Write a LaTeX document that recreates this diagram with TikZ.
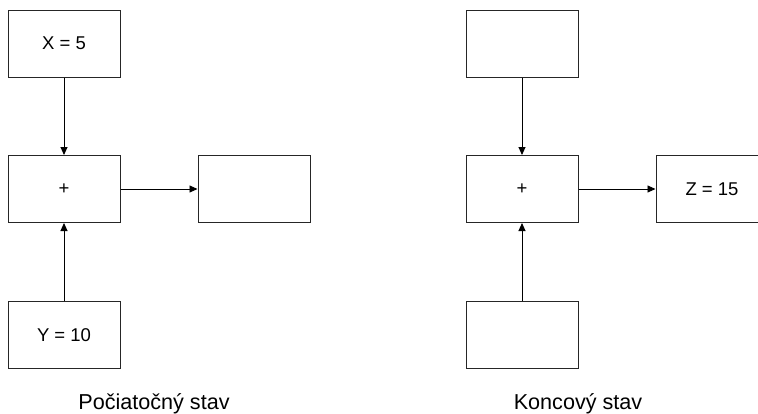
\documentclass[tikz,border=0pt]{standalone}
\usepackage{fontspec}
\setmainfont{Liberation Sans}
\usetikzlibrary{arrows.meta}
\begin{document}
\begin{tikzpicture}[x=1pt,y=-1pt,
  blk/.style={draw=black!85, line width=1pt, minimum width=112pt, minimum height=67pt,
    inner sep=0pt, font=\fontsize{18.5}{20}\selectfont},
  conn/.style={line width=0.9pt, -{Triangle[length=8pt,width=7pt]}},
  caption/.style={font=\fontsize{21.6}{24}\selectfont, anchor=base}]
\useasboundingbox (0,0) rectangle (758,413);
\begin{scope}
\clip (0,0) rectangle (758,413);
% initial state
\node[blk] (x) at (64,43.5) {X = 5};
\node[blk] (sum) at (64,189) {+};
\node[blk] (res) at (254,189) {};
\node[blk] (y) at (64,335) {Y = 10};
\draw[conn] (x) -- (sum);
\draw[conn] (y) -- (sum);
\draw[conn] (sum) -- (res);
\node[caption] (lbl1) at (154,409) {Počiatočný stav};
% final state
\node[blk] (x2) at (522,43.5) {};
\node[blk] (sum2) at (522,189) {+};
\node[blk] (res2) at (712,189) {Z = 15};
\node[blk] (y2) at (522,335) {};
\draw[conn] (x2) -- (sum2);
\draw[conn] (y2) -- (sum2);
\draw[conn] (sum2) -- (res2);
\node[caption] (lbl2) at (578,409) {Koncový stav};
\end{scope}
\end{tikzpicture}
\end{document}
